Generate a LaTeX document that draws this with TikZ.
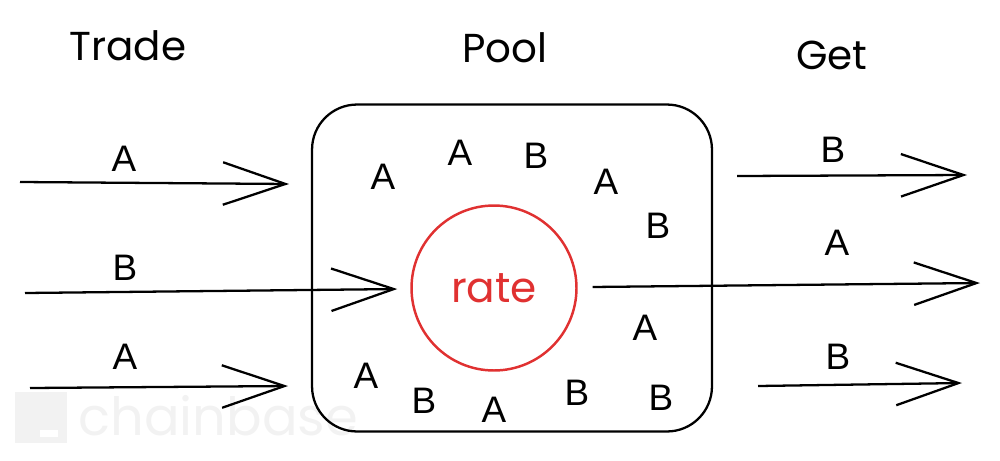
\documentclass[tikz,border=0pt]{standalone}
\usepackage{fontspec}
\setmainfont{Liberation Sans}
\newfontfamily\sketchfont{Poppins}
\usepackage{tikz}
\usetikzlibrary{positioning, arrows.meta}
\definecolor{ratered}{HTML}{E03131}
\definecolor{markgray}{HTML}{F2F2F2}

\begin{document}
\begin{tikzpicture}[%
	x=0.02cm, y=-0.02cm,
	>={Straight Barb[length=1.25cm, width=0.85cm]},
	flow/.style={->, line width=1.3pt},
	hdr/.style={font=\sketchfont\fontsize{23}{27}\selectfont},
	letter/.style={font=\fontsize{21}{24}\selectfont, inner sep=1pt},
	poolbox/.style={draw, rounded corners=0.9cm, line width=1.3pt,
		minimum width=8cm, minimum height=6.54cm},
	rateball/.style={draw=ratered, circle, line width=1.4pt, minimum size=3.3cm,
		text=ratered, font=\sketchfont\fontsize{24}{28}\selectfont}
	]
	\useasboundingbox (0,0) rectangle (1000,460);
	
	% watermark
	\fill[markgray] (15,392) rectangle (67,443);
	\fill[white] (40,430) rectangle (58,437);
	\node[anchor=base west, inner sep=0, text=markgray,
		font=\sketchfont\fontsize{30}{34}\selectfont] (mark) at (78,435) {chainbase};
	
	% headings
	\node[hdr] (trade) at (128,46) {Trade};
	\node[hdr] (poolhd) at (505,48) {Pool};
	\node[hdr] (get) at (832,55) {Get};
	
	% the pool
	\node[poolbox] (pool) at (512,268) {};
	\node[rateball] (rate) at (494,288) {rate};
	
	\node[letter] (p1) at (383,177) {A};
	\node[letter] (p2) at (460,153) {A};
	\node[letter] (p3) at (536,156) {B};
	\node[letter] (p4) at (606,182) {A};
	\node[letter] (p5) at (658,226) {B};
	\node[letter] (p6) at (645,328) {A};
	\node[letter] (p7) at (366,376) {A};
	\node[letter] (p8) at (424,401) {B};
	\node[letter] (p9) at (494,410) {A};
	\node[letter] (p10) at (577,393) {B};
	\node[letter] (p11) at (661,398) {B};
	
	% trades in
	\coordinate (in1s) at (20,182);
	\coordinate (in1e) at (289,184);
	\coordinate (in2s) at (25,293);
	\coordinate (in3s) at (30,388);
	\coordinate (in3e) at (288,386);
	
	\draw[flow] (in1s) -- (in1e);
	\draw[flow, shorten >=0.26cm] (in2s) -- (rate);
	\draw[flow] (in3s) -- (in3e);
	
	\node[letter] (t1) at (124,159) {A};
	\node[letter] (t2) at (125,268) {B};
	\node[letter] (t3) at (125,357) {A};
	
	% what comes out
	\coordinate (out1s) at (737,176);
	\coordinate (out1e) at (967,175);
	\coordinate (out2e) at (980,283);
	\coordinate (out3s) at (758,386);
	\coordinate (out3e) at (962,383);
	
	\draw[flow] (out1s) -- (out1e);
	\draw[flow, shorten <=0.3cm] (rate) -- (out2e);
	\draw[flow] (out3s) -- (out3e);
	
	\node[letter] (g1) at (833,150) {B};
	\node[letter] (g2) at (837,243) {A};
	\node[letter] (g3) at (838,357) {B};
	
\end{tikzpicture}
\end{document}
